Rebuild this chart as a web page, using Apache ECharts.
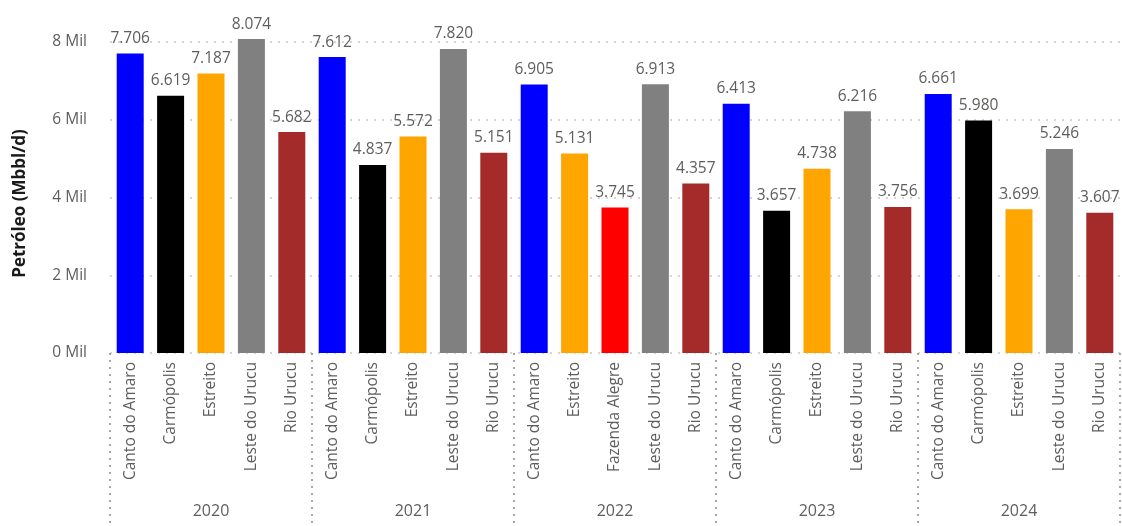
<!DOCTYPE html>
<html><head><meta charset="utf-8">
<script src="https://cdn.jsdelivr.net/npm/echarts@6/dist/echarts.min.js"></script>
<style>html,body{margin:0;padding:0;background:#fff}#c{width:1122px;height:526px}</style>
</head><body><div id="c"></div>
<script>
const years = ['2020','2021','2022','2023','2024'];
const fields = [
  'Canto do Amaro','Carmópolis','Estreito','Leste do Urucu','Rio Urucu',
  'Canto do Amaro','Carmópolis','Estreito','Leste do Urucu','Rio Urucu',
  'Canto do Amaro','Estreito','Fazenda Alegre','Leste do Urucu','Rio Urucu',
  'Canto do Amaro','Carmópolis','Estreito','Leste do Urucu','Rio Urucu',
  'Canto do Amaro','Carmópolis','Estreito','Leste do Urucu','Rio Urucu'
];
const values = [
  7706, 6619, 7187, 8074, 5682,
  7612, 4837, 5572, 7820, 5151,
  6905, 5131, 3745, 6913, 4357,
  6413, 3657, 4738, 6216, 3756,
  6661, 5980, 3699, 5246, 3607
];
const yTicks = [0, 2000, 4000, 6000, 8000];
const fieldColors = {
  'Canto do Amaro': '#0000FF',
  'Carmópolis': '#000000',
  'Estreito': '#FFA500',
  'Leste do Urucu': '#808080',
  'Rio Urucu': '#A52A2A',
  'Fazenda Alegre': '#FF0000'
};
const fmt = v => String(v).replace(/\B(?=(\d{3})+(?!\d))/g, '.');
const font = '"Open Sans", "Noto Sans", sans-serif';
const chart = echarts.init(document.getElementById('c'), null, {renderer:'canvas'});
chart.setOption({
  animation: false,
  grid: {left: 110, right: 2, top: 42, bottom: 173, containLabel: false},
  xAxis: [
    {
      type: 'category', data: fields, gridIndex: 0, position: 'bottom',
      axisLine: {show: false}, axisTick: {show: false},
      axisLabel: {interval: 0, rotate: 90, margin: 9, color: '#605E5C', fontSize: 15.5, fontFamily: font}
    },
    {
      type: 'category', data: years, gridIndex: 0, position: 'bottom',
      axisLine: {show: false},
      axisTick: {show: true, length: 170, interval: 0, lineStyle: {type: [2, 5], color: '#8a8a8a', width: 1.5}},
      axisLabel: {interval: 0, margin: 150, color: '#605E5C', fontSize: 16, fontFamily: font}
    }
  ],
  yAxis: {
    type: 'value', min: 0, max: 8000, interval: 2000,
    name: 'Petróleo (Mbbl/d)', nameLocation: 'middle', nameGap: 81,
    nameTextStyle: {color: '#1a1a1a', fontSize: 17, fontWeight: 'bold', fontFamily: font, padding: [0, 0, 0, -12]},
    axisLine: {show: false}, axisTick: {show: false},
    axisLabel: {margin: 23, color: '#605E5C', fontSize: 15.5, fontFamily: font,
      formatter: v => (v/1000) + ' Mil'},
    splitLine: {lineStyle: {type: [2, 6], color: '#c8c8c8', width: 1.5}}
  },
  series: [{
    type: 'bar', xAxisIndex: 0, clip: false, barWidth: 27,
    data: values.map((v, i) => ({value: v, itemStyle: {color: fieldColors[fields[i]]}})),
    label: {show: true, position: 'top', distance: 7, color: '#605E5C', fontSize: 15.5, fontFamily: font,
      formatter: p => fmt(p.value)}
  }]
});
</script></body></html>
